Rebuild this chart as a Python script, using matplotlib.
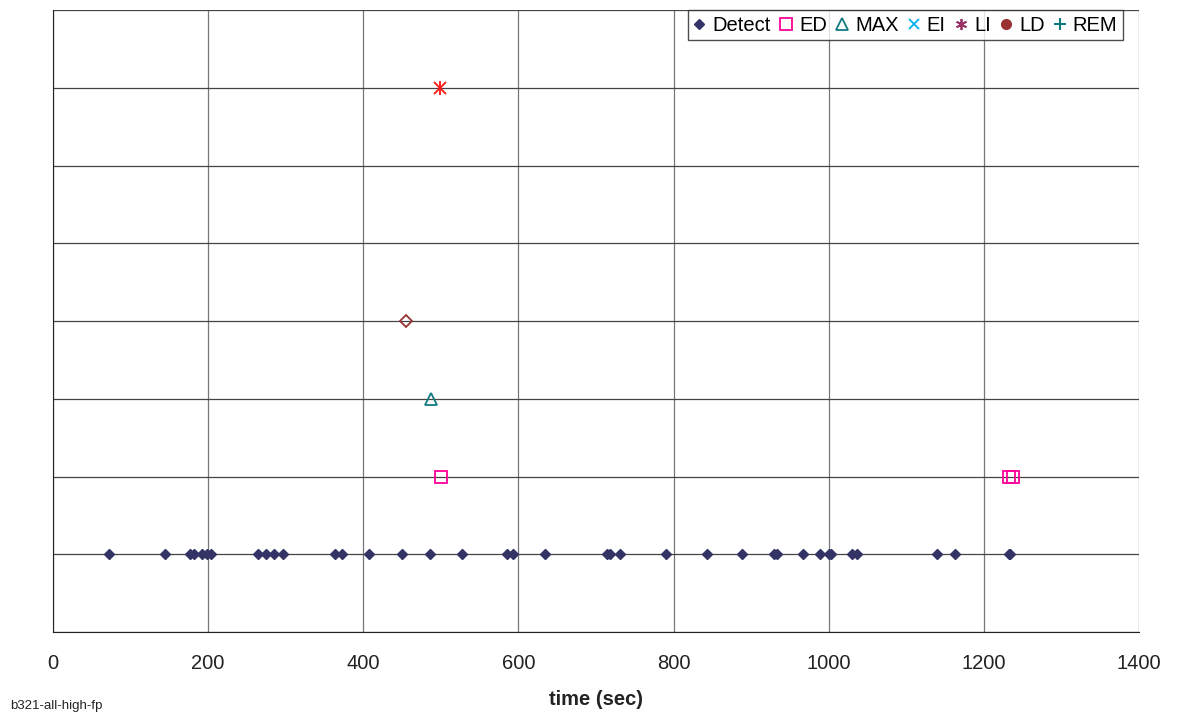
import numpy as np
import matplotlib
matplotlib.use("Agg")
import matplotlib.pyplot as plt
from matplotlib.lines import Line2D

plt.rcParams["font.family"] = ["Liberation Sans", "DejaVu Sans"]

# --- data ---
detect_t = [72.6, 145, 176.6, 181.8, 191.7, 198, 203.3, 264.7, 274.6, 285.3, 296.1,
            363.5, 372.6, 407.8, 450.3, 486, 527.3, 584.9, 593.4, 634.6, 714, 718,
            731.3, 790.2, 842.7, 888.2, 929, 933, 967.2, 988.8, 1000, 1003.5,
            1030.4, 1036, 1140, 1162.8, 1232, 1234]
detect_y = 1
ed_t = [500, 1233, 1237.5]
ed_y = 2
max_t = [487.3]
max_y = 3
dia_t = [455]
dia_y = 4
li_t = [499]
li_y = 7

fig = plt.figure(figsize=(11.81, 7.19), dpi=100)
ax = fig.add_axes([53 / 1181, 87 / 719, (1139 - 53) / 1181, (632 - 10) / 719])

ax.plot(detect_t, [detect_y] * len(detect_t), "D", color="#333366", markersize=5.5, ls="none")
ax.plot(ed_t, [ed_y] * len(ed_t), "s", mfc="none", mec="#ff0099", mew=1.3, markersize=8, ls="none")
ax.plot(max_t, [max_y] * len(max_t), "^", mfc="none", mec="#117a80", mew=1.3, markersize=8, ls="none")
ax.plot(dia_t, [dia_y] * len(dia_t), "D", mfc="none", mec="#993333", mew=1.3, markersize=6, ls="none")
# asterisk: x plus vertical bar
ax.plot(li_t, [li_y] * len(li_t), "x", color="#ff2020", mew=1.4, markersize=8, ls="none")
ax.plot(li_t, [li_y] * len(li_t), "|", color="#ff2020", mew=1.4, markersize=10, ls="none")

ax.set_xlim(0, 1400)
ax.set_ylim(0, 8)
ax.set_xticks(np.arange(0, 1401, 200))
ax.set_yticks(np.arange(0, 9, 1))
ax.set_yticklabels([])
ax.tick_params(axis="y", length=0)
ax.tick_params(axis="x", length=0, labelsize=14.5, pad=16, colors="#222222")
ax.grid(True, color="#777777", linewidth=0.9)
ax.grid(True, axis="y", color="#444444", linewidth=0.9)
ax.set_axisbelow(True)
for side in ["top", "right"]:
    ax.spines[side].set_visible(False)
ax.spines["left"].set_color("#222222")
ax.spines["bottom"].set_color("#222222")

ax.set_xlabel("time (sec)", fontsize=14.5, fontweight="bold", labelpad=12, color="#222222")
fig.text(10 / 1181, 1 - 706 / 719, "b321-all-high-fp", fontsize=9.5, va="center", color="#222222")

handles = [
    Line2D([], [], marker="D", color="#333366", ls="none", markersize=5),
    Line2D([], [], marker="s", mfc="none", mec="#ff0099", mew=1.3, ls="none", markersize=8),
    Line2D([], [], marker="^", mfc="none", mec="#117a80", mew=1.3, ls="none", markersize=8),
    Line2D([], [], marker="x", color="#00b0f0", mew=1.3, ls="none", markersize=7),
    Line2D([], [], marker=(6, 2, 0), color="#993366", mew=1.3, ls="none", markersize=8),
    Line2D([], [], marker="o", color="#993333", ls="none", markersize=7),
    Line2D([], [], marker="+", color="#117a80", mew=1.5, ls="none", markersize=9),
]
labels = ["Detect", "ED", "MAX", "EI", "LI", "LD", "REM"]
leg = ax.legend(handles, labels, ncol=7, loc="upper right",
                bbox_to_anchor=((1123 - 53) / 1086, 1.0),
                fontsize=14.5, frameon=True, fancybox=False, edgecolor="#222222",
                handlelength=0.6, handletextpad=0.35, columnspacing=0.45,
                borderpad=0.28, borderaxespad=0.0)
leg.get_frame().set_linewidth(1.0)

fig.savefig("out.png", dpi=100)
